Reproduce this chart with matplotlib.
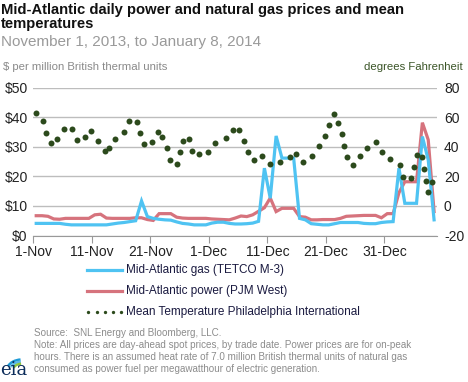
import matplotlib
matplotlib.use("Agg")
import matplotlib.pyplot as plt
from matplotlib.patches import Arc

plt.rcParams['font.family'] = ['Liberation Sans', 'DejaVu Sans']

# daily prices, Nov 1 2013 .. Jan 8 2014 (day 0 = Nov 1)
gas = [4.1, 4.1, 4.1, 4.1, 4.1, 3.8, 3.6, 3.6, 3.6, 3.6,
       3.6, 3.6, 3.6, 3.9, 4.2, 4.4, 4.7, 5.0, 11.7, 6.4,
       5.8, 5.5, 5.3, 5.2, 4.6, 4.1, 3.9, 3.6, 3.6, 3.6,
       4.2, 4.5, 4.5, 4.1, 3.9, 3.9, 4.0, 4.2, 4.8, 22.8,
       12.6, 33.7, 26.2, 26.2, 26.2, 5.8, 5.3, 4.0, 3.8, 3.6,
       3.6, 4.0, 4.4, 4.4, 4.4, 4.4, 4.1, 4.0, 4.0, 4.4,
       4.6, 4.7, 22.8, 10.9, 10.9, 10.9, 33.5, 25.6, 5.3]
power = [6.7, 6.7, 6.5, 5.6, 5.5, 5.8, 5.8, 5.8, 5.8, 5.8,
         7.0, 7.2, 5.9, 5.8, 5.8, 5.8, 5.8, 6.0, 6.0, 5.4,
         5.1, 7.4, 7.4, 7.4, 6.2, 5.9, 5.8, 5.8, 5.8, 5.8,
         5.6, 5.5, 5.4, 5.3, 5.9, 6.6, 6.4, 7.0, 8.2, 9.4,
         12.7, 8.1, 9.2, 9.2, 9.2, 6.4, 6.2, 5.3, 5.3, 5.4,
         5.4, 5.4, 5.8, 6.5, 6.6, 6.7, 6.8, 6.8, 6.8, 6.0,
         7.4, 7.4, 14.5, 18.2, 18.2, 18.2, 38.2, 32.4, 8.1]
days = list(range(len(gas)))

# mean temperature, positions (days since Nov 1)
temp_day = [0, 1.2, 1.67, 2.5, 3.6, 4.7, 6.2, 6.9, 8.3, 9.4,
            10.55, 11.7, 12.5, 13.5, 15.0, 15.8, 17.2, 17.7, 18.5, 19.8,
            20.75, 21.5, 22.3, 22.8, 24.0, 24.6, 25.1, 26.1, 26.6, 27.8,
            29.4, 30.6, 32.4, 33.6, 34.7, 35.5, 36.2, 37.2, 38.6, 39.9,
            41.6, 43.3, 44.4, 45.6, 47.2, 48.4, 49.3, 50.0, 50.9, 51.55,
            52.2, 52.6, 53.1, 54.1, 55.3, 56.6, 58.1, 59.1, 60.55, 62.1,
            62.7, 64.0, 64.5, 65.0, 66.0, 66.3, 66.6, 66.9, 67.7]
temp_f = [63.2, 57.5, 49.6, 42.4, 45.6, 52.4, 51.9, 44.5, 46.8, 50.8,
          44.3, 37.5, 39.5, 45.2, 50.4, 57.8, 57.1, 49.2, 41.7, 43.1,
          50.3, 46.7, 39.1, 31.0, 28.5, 36.2, 44.3, 45.4, 37.5, 35.0,
          36.4, 42.9, 45.8, 51.3, 51.3, 44.0, 36.3, 31.0, 34.0, 28.2,
          29.5, 33.2, 35.0, 29.7, 33.5, 40.3, 47.5, 54.9, 62.3, 56.2,
          48.6, 40.7, 33.0, 27.4, 33.9, 39.3, 43.6, 36.5, 32.0, 27.4,
          19.8, 18.6, 26.4, 34.4, 33.2, 25.2, 17.2, 9.2, 16.2]

tick_days = [0, 10, 20, 30, 40, 50, 60]
tick_labels = ['1-Nov', '11-Nov', '21-Nov', '1-Dec', '11-Dec', '21-Dec', '31-Dec']
price_ticks = [0, 10, 20, 30, 40, 50]
temp_ticks = [-20, 0, 20, 40, 60, 80]

gas_col = '#4FC3F2'
pow_col = '#D6737D'
temp_col = '#2C4A1C'
grid_col = '#BDBDBD'

W, H = 468, 382
fig = plt.figure(figsize=(W / 100, H / 100), dpi=100)
ax = fig.add_axes([33.3 / W, 1 - 235.5 / H, (437 - 33.3) / W, (235.5 - 87.8) / H])
ax2 = ax.twinx()

ax.plot(days, gas, color=gas_col, lw=2.3, solid_joinstyle='miter', zorder=3)
ax.plot(days, power, color=pow_col, lw=2.3, solid_joinstyle='miter', zorder=2)
ax2.plot(temp_day, temp_f, 'o', color=temp_col, ms=4.3, mec='none')

ax.set_xlim(-0.5, 68.5)
ax.set_ylim(0, 50)
ax2.set_ylim(-20, 80)
ax.set_yticks(price_ticks)
ax.set_yticklabels(['$%d' % v for v in price_ticks])
ax2.set_yticks(temp_ticks)
ax2.set_yticklabels([str(v) for v in temp_ticks])
ax.set_xticks([d - 0.5 for d in tick_days])
ax.set_xticklabels(tick_labels)
ax.grid(axis='y', color=grid_col, lw=1)
ax.set_axisbelow(True)
for a in (ax, ax2):
    for s in ('top', 'left', 'right'):
        a.spines[s].set_visible(False)
    a.spines['bottom'].set_color('#999999')
ax2.spines['bottom'].set_visible(False)
ax.tick_params(axis='y', length=0, labelsize=10, colors='#222222', pad=4)
ax2.tick_params(axis='y', length=0, labelsize=10, colors='#222222', pad=5)
ax.tick_params(axis='x', length=5, color='#999999', labelsize=10, labelcolor='#222222', pad=2)

# overlay in pixel coordinates for titles, legend and notes
ov = fig.add_axes([0, 0, 1, 1], zorder=-1)
ov.set_xlim(0, W)
ov.set_ylim(H, 0)
ov.axis('off')

ov.text(1, 3, 'Mid-Atlantic daily power and natural gas prices and mean\ntemperatures',
        fontsize=10.6, fontweight='bold', va='top', ha='left', linespacing=1.0, color='#111111')
ov.text(1, 35, 'November 1, 2013, to January 8, 2014', fontsize=11, color='#9A9A9A', va='top')
ov.text(3, 62, '$ per million British thermal units', fontsize=8.2, color='#8A8A8A', va='top')
ov.text(463, 62, 'degrees Fahrenheit', fontsize=8.2, color='#3B5528', va='top', ha='right')

ov.plot([87, 122], [270, 270], color=gas_col, lw=2.3)
ov.plot([87, 122], [291, 291], color=pow_col, lw=2.3)
ov.plot([88, 97, 105, 113, 121], [312] * 5, 'o', color=temp_col, ms=2.4, mec='none')
leg_text = ['Mid-Atlantic gas (TETCO M-3)', 'Mid-Atlantic power (PJM West)',
            'Mean Temperature Philadelphia International']
for i, t in enumerate(leg_text):
    ov.text(126, 270 + 21 * i, t, fontsize=8.5, color='#1a1a40', va='center')

notes = ('Source:  SNL Energy and Bloomberg, LLC.\n'
         'Note: All prices are day-ahead spot prices, by trade date. Power prices are for on-peak\n'
         'hours. There is an assumed heat rate of 7.0 million British thermal units of natural gas\n'
         'consumed as power fuel per megawatthour of electric generation.')
ov.text(34, 328, notes, fontsize=7.1, color='#8C8C8C', va='top', linespacing=1.25)

# eia logo
for r, c in ((15, '#1C9AD6'), (12, '#5BB7E6'), (9, '#8DC63F')):
    ov.add_patch(Arc((22, 370), 2 * r, 1.4 * r, theta1=195, theta2=262, color=c, lw=1.8))
ov.text(0, 379, 'eia', fontsize=13, family='DejaVu Serif', color='#0B2C5A', va='bottom')

fig.savefig('out.png', dpi=100)
